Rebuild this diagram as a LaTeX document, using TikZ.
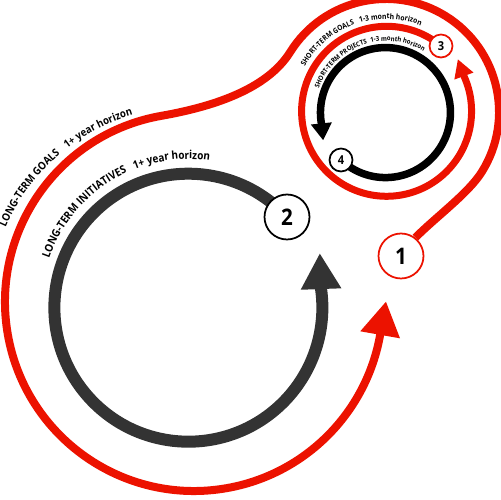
\documentclass[tikz,border=0pt]{standalone}
\usepackage{fontspec}
\setmainfont{Open Sans}[FakeStretch=0.9]
\usetikzlibrary{arrows.meta,calc,decorations.text,backgrounds}
\definecolor{myred}{RGB}{236,18,0}
\definecolor{mydark}{RGB}{51,51,51}
\newcommand\curvelabel[6]{%
  \path[decorate, decoration={text along path, text align=center,
    text={|\fontsize{#5}{#5}\selectfont\bfseries|#6}}]
    ($(#1)+(#3:#2)$) arc[start angle=#3, end angle=#4, radius=#2];}
\begin{document}
\begin{tikzpicture}[x=0.02cm,y=0.02cm,
  numnode/.style={circle, fill=white, line width=0.035cm, inner sep=0pt},
  bignum/.style={numnode, minimum size=0.9cm, font=\fontsize{13pt}{13pt}\selectfont\bfseries},
  smallnum/.style={numnode, minimum size=0.46cm, font=\fontsize{7pt}{7pt}\selectfont\bfseries},
  darkline/.style={draw=mydark, line width=0.24cm, -{Triangle[length=0.72cm,width=0.76cm]}},
  outerred/.style={draw=myred, line width=0.16cm, -{Triangle[length=0.68cm,width=0.76cm]}},
  innerred/.style={draw=myred, line width=0.14cm, -{Triangle[length=0.36cm,width=0.38cm]}},
  smallblack/.style={draw=black, line width=0.15cm, -{Triangle[length=0.34cm,width=0.40cm]}}]
\useasboundingbox (0,0) rectangle (500,500);
\coordinate (C1) at (189,193);
\coordinate (C1r) at (194,198);
\coordinate (C2) at (386,388);
\node[bignum, draw=myred] (n1) at (401,244) {1};
\node[bignum, draw=black] (n2) at (287,283) {2};
\node[smallnum, draw=myred] (n3) at (441,454) {3};
\node[smallnum, draw=black] (n4) at (341,340) {4};
\begin{scope}[on background layer]
\draw[darkline] (n2.center) arc[start angle=42.6, end angle=368, radius=134] -- ++(92:36);
\draw[innerred] (n3.center) arc[start angle=50.2, end angle=384.5, radius=85] -- ++(110:18);
\draw[smallblack] (n4.center) arc[start angle=226.85, end angle=549.6, radius=65] -- ++(276:17);
\draw[outerred] (n1.52) .. controls +(45:30) and +(238:25) .. ($(C2)+(-32:113)$)
  arc[start angle=-32, end angle=148, radius=113]
  .. controls +(238:45) and +(10:50) .. ($(C1r)+(100:189)$)
  arc[start angle=100, end angle=350, radius=189] -- ++(80:34);
\end{scope}
\curvelabel{C1}{148}{171}{104.5}{6.3pt}{LONG-TERM INITIATIVES}
\curvelabel{C1}{148}{121.5}{72}{6.3pt}{1+ year horizon}
\curvelabel{C1}{200}{167}{119.5}{6.1pt}{LONG-TERM GOALS}
\curvelabel{C1}{200}{137.2}{96.6}{6.1pt}{1+ year horizon}
\curvelabel{C2}{93}{160.5}{100}{4.2pt}{SHORT-TERM GOALS}
\curvelabel{C2}{93}{117}{57.4}{4.3pt}{1-3 month horizon}
\curvelabel{C2}{71}{171}{95}{3.8pt}{SHORT-TERM PROJECTS}
\curvelabel{C2}{71}{111.5}{49}{3.8pt}{1-3 month horizon}
\end{tikzpicture}
\end{document}
